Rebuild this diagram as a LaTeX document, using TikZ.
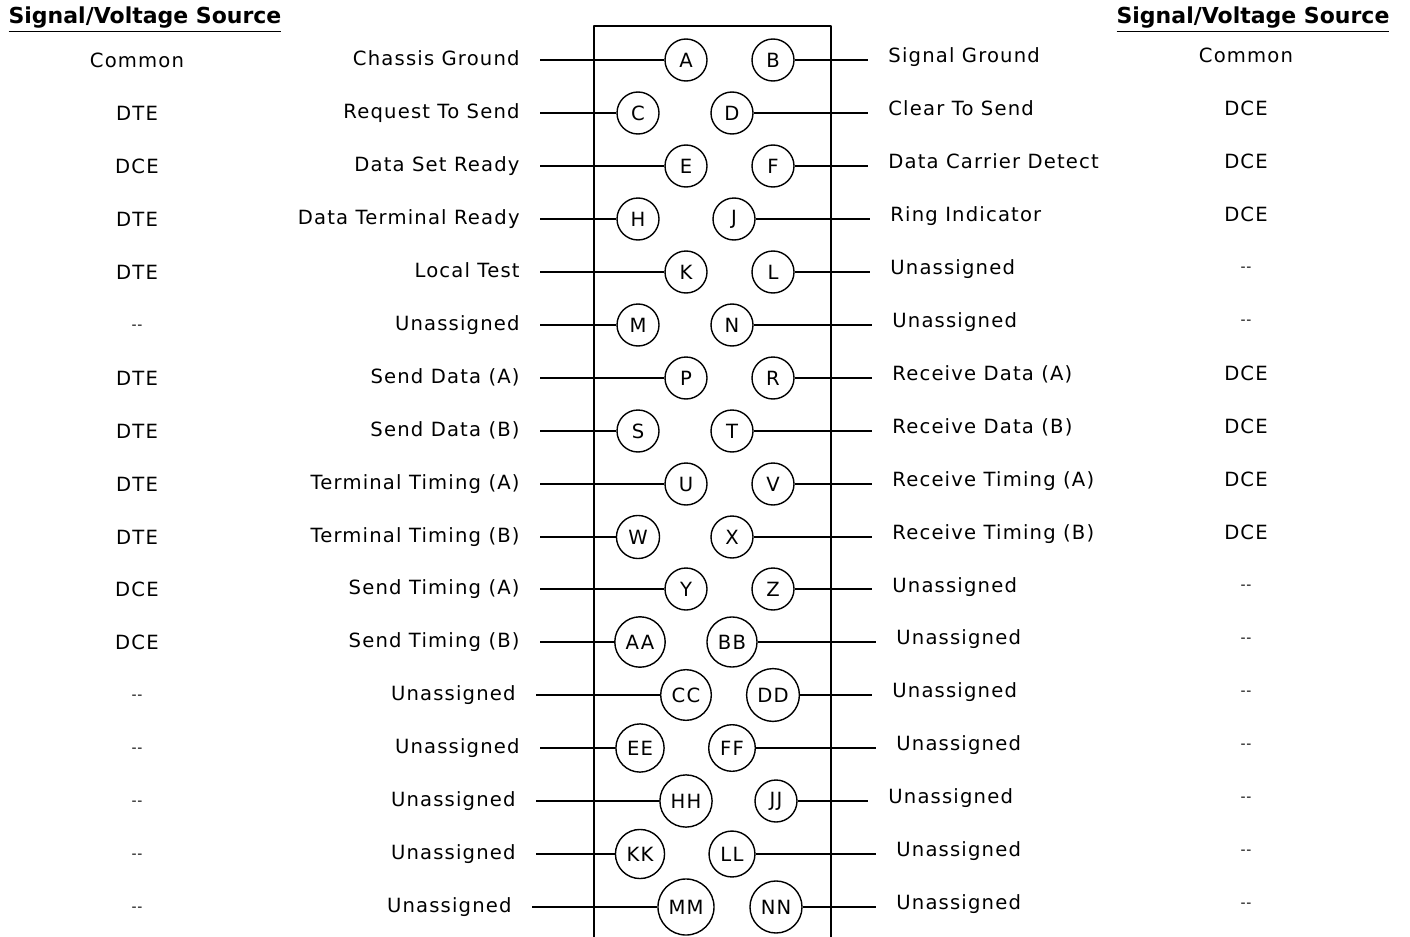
\documentclass[tikz,border=0pt]{standalone}
\usepackage{fontspec}
\setmainfont[LetterSpace=6]{DejaVu Sans}
\usepackage{tikz}

\begin{document}
\begin{tikzpicture}[x=0.5pt, y=-0.5pt, line join=round, line cap=butt,
  every node/.style={font=\fontsize{9.8}{12}\selectfont},
  pin/.style={circle, draw, line width=0.7pt, inner sep=3.4pt, minimum size=21pt},
  lsig/.style={anchor=east, inner xsep=10pt, inner ysep=0pt, text height=7.2pt, text depth=2pt},
  rsig/.style={anchor=west, inner xsep=10pt, inner ysep=0pt, text height=7.2pt, text depth=2pt},
  src/.style={inner sep=0pt},
  nosrc/.style={inner sep=0pt, font=\fontsize{7}{8}\selectfont},
  head/.style={font=\fontsize{11}{13}\bfseries\selectfont, inner sep=0pt}]
\useasboundingbox (0,0) rectangle (1410,937);
\draw[line width=1pt] (594,937) -- (594,26) -- (831,26) -- (831,937);
\node[head] (hl) at (145,20) {\addfontfeature{LetterSpace=0}\underline{Signal/Voltage Source}};
\node[head] (hr) at (1253,20) {\addfontfeature{LetterSpace=0}\underline{Signal/Voltage Source}};
\node[pin] (A) at (686,60) {A};
\node[pin] (B) at (773,60) {B};
\node[pin] (C) at (638,113) {C};
\node[pin] (D) at (732,113) {D};
\node[pin] (E) at (686,166) {E};
\node[pin] (F) at (773,166) {F};
\node[pin] (H) at (638,219) {H};
\node[pin] (J) at (734,219) {J};
\node[pin] (K) at (686,272) {K};
\node[pin] (L) at (773,272) {L};
\node[pin] (M) at (638,325) {M};
\node[pin] (N) at (732,325) {N};
\node[pin] (P) at (686,378) {P};
\node[pin] (R) at (773,378) {R};
\node[pin] (S) at (638,431) {S};
\node[pin] (T) at (732,431) {T};
\node[pin] (U) at (686,484) {U};
\node[pin] (V) at (773,484) {V};
\node[pin] (W) at (638,537) {W};
\node[pin] (X) at (732,537) {X};
\node[pin] (Y) at (686,589) {Y};
\node[pin] (Z) at (773,589) {Z};
\node[pin] (AA) at (640,642) {AA};
\node[pin] (BB) at (732,642) {BB};
\node[pin] (CC) at (686,695) {CC};
\node[pin] (DD) at (773,695) {DD};
\node[pin] (EE) at (640,748) {EE};
\node[pin] (FF) at (732,748) {FF};
\node[pin] (HH) at (686,801) {HH};
\node[pin] (JJ) at (776,801) {JJ};
\node[pin] (KK) at (640,854) {KK};
\node[pin] (LL) at (732,854) {LL};
\node[pin] (MM) at (686,907) {MM};
\node[pin] (NN) at (776,907) {NN};
\node[lsig] (lA) at (540,60) {Chassis Ground};
\node[lsig] (lC) at (540,113) {Request To Send};
\node[lsig] (lE) at (540,166) {Data Set Ready};
\node[lsig] (lH) at (540,219) {Data Terminal Ready};
\node[lsig] (lK) at (540,272) {Local Test};
\node[lsig] (lM) at (540,325) {Unassigned};
\node[lsig] (lP) at (540,378) {Send Data (A)};
\node[lsig] (lS) at (540,431) {Send Data (B)};
\node[lsig] (lU) at (540,484) {Terminal Timing (A)};
\node[lsig] (lW) at (540,537) {Terminal Timing (B)};
\node[lsig] (lY) at (540,589) {Send Timing (A)};
\node[lsig] (lAA) at (540,642) {Send Timing (B)};
\node[lsig] (lCC) at (536,695) {Unassigned};
\node[lsig] (lEE) at (540,748) {Unassigned};
\node[lsig] (lHH) at (536,801) {Unassigned};
\node[lsig] (lKK) at (536,854) {Unassigned};
\node[lsig] (lMM) at (532,907) {Unassigned};
\node[rsig] (rB) at (868,57) {Signal Ground};
\node[rsig] (rD) at (868,110) {Clear To Send};
\node[rsig] (rF) at (868,163) {Data Carrier Detect};
\node[rsig] (rJ) at (870,216) {Ring Indicator};
\node[rsig] (rL) at (870,269) {Unassigned};
\node[rsig] (rN) at (872,322) {Unassigned};
\node[rsig] (rR) at (872,375) {Receive Data (A)};
\node[rsig] (rT) at (872,428) {Receive Data (B)};
\node[rsig] (rV) at (872,481) {Receive Timing (A)};
\node[rsig] (rX) at (872,534) {Receive Timing (B)};
\node[rsig] (rZ) at (872,587) {Unassigned};
\node[rsig] (rBB) at (876,639) {Unassigned};
\node[rsig] (rDD) at (872,692) {Unassigned};
\node[rsig] (rFF) at (876,745) {Unassigned};
\node[rsig] (rJJ) at (868,798) {Unassigned};
\node[rsig] (rLL) at (876,851) {Unassigned};
\node[rsig] (rNN) at (876,904) {Unassigned};
\draw[line width=1pt] (lA.east) -- (A);
\draw[line width=1pt] (lC.east) -- (C);
\draw[line width=1pt] (lE.east) -- (E);
\draw[line width=1pt] (lH.east) -- (H);
\draw[line width=1pt] (lK.east) -- (K);
\draw[line width=1pt] (lM.east) -- (M);
\draw[line width=1pt] (lP.east) -- (P);
\draw[line width=1pt] (lS.east) -- (S);
\draw[line width=1pt] (lU.east) -- (U);
\draw[line width=1pt] (lW.east) -- (W);
\draw[line width=1pt] (lY.east) -- (Y);
\draw[line width=1pt] (lAA.east) -- (AA);
\draw[line width=1pt] (lCC.east) -- (CC);
\draw[line width=1pt] (lEE.east) -- (EE);
\draw[line width=1pt] (lHH.east) -- (HH);
\draw[line width=1pt] (lKK.east) -- (KK);
\draw[line width=1pt] (lMM.east) -- (MM);
\draw[line width=1pt] (B.east) -- (B.east -| rB.west);
\draw[line width=1pt] (D.east) -- (D.east -| rD.west);
\draw[line width=1pt] (F.east) -- (F.east -| rF.west);
\draw[line width=1pt] (J.east) -- (J.east -| rJ.west);
\draw[line width=1pt] (L.east) -- (L.east -| rL.west);
\draw[line width=1pt] (N.east) -- (N.east -| rN.west);
\draw[line width=1pt] (R.east) -- (R.east -| rR.west);
\draw[line width=1pt] (T.east) -- (T.east -| rT.west);
\draw[line width=1pt] (V.east) -- (V.east -| rV.west);
\draw[line width=1pt] (X.east) -- (X.east -| rX.west);
\draw[line width=1pt] (Z.east) -- (Z.east -| rZ.west);
\draw[line width=1pt] (BB.east) -- (BB.east -| rBB.west);
\draw[line width=1pt] (DD.east) -- (DD.east -| rDD.west);
\draw[line width=1pt] (FF.east) -- (FF.east -| rFF.west);
\draw[line width=1pt] (JJ.east) -- (JJ.east -| rJJ.west);
\draw[line width=1pt] (LL.east) -- (LL.east -| rLL.west);
\draw[line width=1pt] (NN.east) -- (NN.east -| rNN.west);
\node[src] (sA) at (137,60) {Common};
\node[src] (sC) at (137,113) {DTE};
\node[src] (sE) at (137,166) {DCE};
\node[src] (sH) at (137,219) {DTE};
\node[src] (sK) at (137,272) {DTE};
\node[nosrc] (sM) at (137,327) {{-}{-}};
\node[src] (sP) at (137,378) {DTE};
\node[src] (sS) at (137,431) {DTE};
\node[src] (sU) at (137,484) {DTE};
\node[src] (sW) at (137,537) {DTE};
\node[src] (sY) at (137,589) {DCE};
\node[src] (sAA) at (137,642) {DCE};
\node[nosrc] (sCC) at (137,697) {{-}{-}};
\node[nosrc] (sEE) at (137,750) {{-}{-}};
\node[nosrc] (sHH) at (137,803) {{-}{-}};
\node[nosrc] (sKK) at (137,856) {{-}{-}};
\node[nosrc] (sMM) at (137,909) {{-}{-}};
\node[src] (sB) at (1246,55) {Common};
\node[src] (sD) at (1246,108) {DCE};
\node[src] (sF) at (1246,161) {DCE};
\node[src] (sJ) at (1246,214) {DCE};
\node[nosrc] (sL) at (1246,269) {{-}{-}};
\node[nosrc] (sN) at (1246,322) {{-}{-}};
\node[src] (sR) at (1246,373) {DCE};
\node[src] (sT) at (1246,426) {DCE};
\node[src] (sV) at (1246,479) {DCE};
\node[src] (sX) at (1246,532) {DCE};
\node[nosrc] (sZ) at (1246,587) {{-}{-}};
\node[nosrc] (sBB) at (1246,640) {{-}{-}};
\node[nosrc] (sDD) at (1246,693) {{-}{-}};
\node[nosrc] (sFF) at (1246,746) {{-}{-}};
\node[nosrc] (sJJ) at (1246,799) {{-}{-}};
\node[nosrc] (sLL) at (1246,852) {{-}{-}};
\node[nosrc] (sNN) at (1246,905) {{-}{-}};
\end{tikzpicture}
\end{document}
